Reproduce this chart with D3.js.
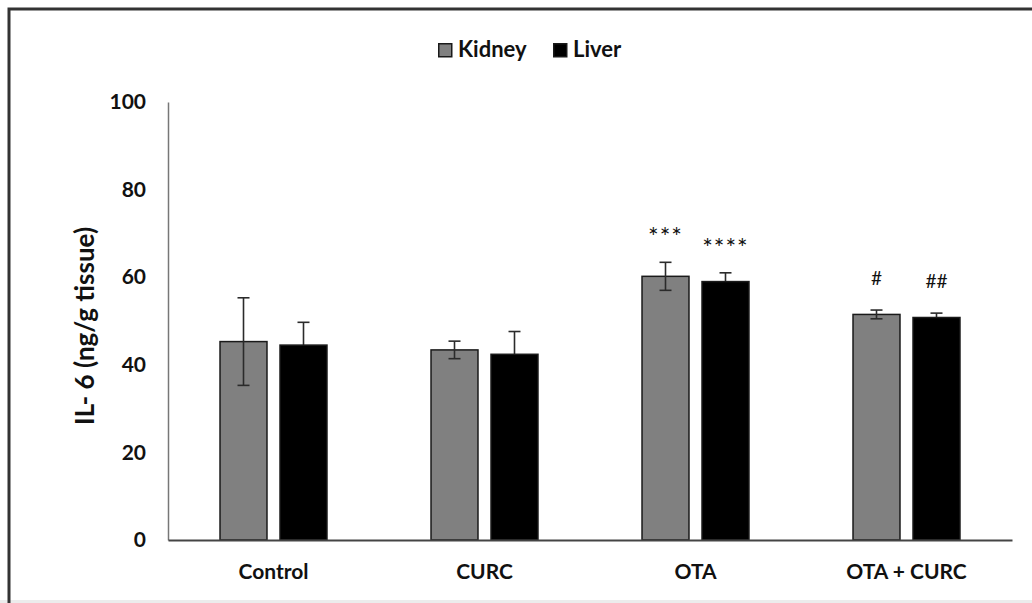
<!DOCTYPE html>
<html>
<head>
<meta charset="utf-8">
<script src="https://cdn.jsdelivr.net/npm/d3@7"></script>
<style>
    body { margin: 0; background: #fff; }
    svg { display: block; font-family: Lato, "Open Sans", sans-serif; }
</style>
</head>
<body>
<div id="chart"></div>
<script>
    // data
    var groups = ['Control', 'CURC', 'OTA', 'OTA + CURC'];
    var series = ['Kidney', 'Liver'];
    var kidneyMean = [45.3, 43.4, 60.2, 51.5];
    var kidneyErr = [10.0, 2.0, 3.2, 1.0];
    var liverMean = [44.5, 42.4, 59.0, 50.8];
    var liverErr = [5.2, 5.2, 2.0, 1.0];
    var kidneyMarks = ['', '', '***', '#'];
    var liverMarks = ['', '', '****', '##'];
    var yTicks = [0, 20, 40, 60, 80, 100];

    var colors = {Kidney: '#808080', Liver: '#000000'};
    var font = 'Lato, "Open Sans", sans-serif';

    var width = 1032, height = 603;
    var svg = d3.select('#chart').append('svg')
            .attr('width', width)
            .attr('height', height);

    // outer frame (top and left edge only, as in the picture)
    svg.append('rect')
            .attr('x', 0).attr('y', 600).attr('width', width).attr('height', 3)
            .attr('fill', '#ececec');
    svg.append('path')
            .attr('d', 'M9,603 V9 H1032')
            .attr('fill', 'none')
            .attr('stroke', '#333')
            .attr('stroke-width', 3);

    var plot = {left: 168, right: 1012, top: 102, bottom: 540};

    var x0 = d3.scaleBand().domain(groups).range([plot.left, plot.right]);
    var x1 = d3.scaleBand().domain(series).range([0, x0.bandwidth()])
            .paddingInner(0.217).paddingOuter(0.867);
    var y = d3.scaleLinear().domain([0, 100]).range([plot.bottom, plot.top]);

    // build rows per group from the arrays
    var rows = groups.map(function(g, i) {
        return [
            {group: g, key: 'Kidney', mean: kidneyMean[i], err: kidneyErr[i], mark: kidneyMarks[i]},
            {group: g, key: 'Liver', mean: liverMean[i], err: liverErr[i], mark: liverMarks[i]}
        ];
    });
    var flat = d3.merge(rows);

    function cx(d) { return x0(d.group) + x1(d.key) + x1.bandwidth() / 2; }

    // y axis
    var yAxis = svg.append('g')
            .attr('transform', 'translate(' + plot.left + ',0)')
            .call(d3.axisLeft(y).tickValues(yTicks).tickSize(0).tickPadding(22));
    yAxis.attr('font-family', font);
    yAxis.select('.domain').attr('stroke', '#777').attr('stroke-width', 1.5);
    yAxis.selectAll('text')
            .attr('fill', '#111')
            .style('font-size', '21px')
            .style('font-weight', 'bold');

    // error bars, liver ones sit behind their black bars like in the picture
    var errBack = svg.append('g');
    var barLayer = svg.append('g');
    var errFront = svg.append('g');

    function drawErr(layer, data) {
        var err = layer.selectAll('g').data(data)
            .enter()
            .append('g')
                .attr('stroke', '#2b2b2b')
                .attr('stroke-width', 1.6);
        err.append('line')
                .attr('x1', cx)
                .attr('x2', cx)
                .attr('y1', function(d) { return y(d.mean - d.err); })
                .attr('y2', function(d) { return y(d.mean + d.err); });
        [1, -1].forEach(function(sign) {
            err.append('line')
                    .attr('x1', function(d) { return cx(d) - 6; })
                    .attr('x2', function(d) { return cx(d) + 6; })
                    .attr('y1', function(d) { return y(d.mean + sign * d.err); })
                    .attr('y2', function(d) { return y(d.mean + sign * d.err); });
        });
    }
    drawErr(errBack, flat.filter(function(d) { return d.key === 'Liver'; }));
    drawErr(errFront, flat.filter(function(d) { return d.key === 'Kidney'; }));

    // bars
    barLayer.selectAll('rect').data(flat)
        .enter()
        .append('rect')
            .attr('x', function(d) { return x0(d.group) + x1(d.key); })
            .attr('y', function(d) { return y(d.mean); })
            .attr('width', x1.bandwidth())
            .attr('height', function(d) { return y(0) - y(d.mean); })
            .attr('fill', function(d) { return colors[d.key]; })
            .attr('stroke', '#1a1a1a')
            .attr('stroke-width', 1.5);

    // significance marks
    svg.append('g').selectAll('text').data(flat.filter(function(d) { return d.mark; }))
        .enter()
        .append('text')
            .attr('x', cx)
            .attr('y', function(d) {
                return y(d.mean + d.err) - (d.mark.charAt(0) === '*' ? 16 : 25);
            })
            .attr('text-anchor', 'middle')
            .attr('fill', '#111')
            .style('font-size', function(d) { return d.mark.charAt(0) === '*' ? '25px' : '19px'; })
            .style('letter-spacing', function(d) { return d.mark.charAt(0) === '*' ? '1px' : '0px'; })
            .text(function(d) { return d.mark; });

    // x axis
    var xAxis = svg.append('g')
            .attr('transform', 'translate(0,' + plot.bottom + ')')
            .call(d3.axisBottom(x0).tickSize(0).tickPadding(24));
    xAxis.attr('font-family', font);
    xAxis.select('.domain').attr('stroke', '#444').attr('stroke-width', 2);
    xAxis.selectAll('text')
            .attr('fill', '#111')
            .style('font-size', '21px')
            .style('font-weight', 'bold');

    // y title
    svg.append('text')
            .attr('transform', 'translate(94,326) rotate(-90)')
            .attr('text-anchor', 'middle')
            .attr('fill', '#111')
            .style('font-size', '26px')
            .style('font-weight', 'bold')
            .text('IL- 6 (ng/g tissue)');

    // legend
    var legendPos = [438, 553];
    var legend = svg.append('g').selectAll('g').data(series)
        .enter()
        .append('g')
            .attr('transform', function(d, i) { return 'translate(' + legendPos[i] + ',43)'; });
    legend.append('rect')
            .attr('x', 0.75).attr('y', 0.75)
            .attr('width', 13).attr('height', 13)
            .attr('fill', function(d) { return colors[d]; })
            .attr('stroke', '#1a1a1a')
            .attr('stroke-width', 1.5);
    legend.append('text')
            .attr('x', 20)
            .attr('y', 14)
            .attr('fill', '#111')
            .style('font-size', '22px')
            .style('font-weight', 'bold')
            .text(function(d) { return d; });
</script>
</body>
</html>
